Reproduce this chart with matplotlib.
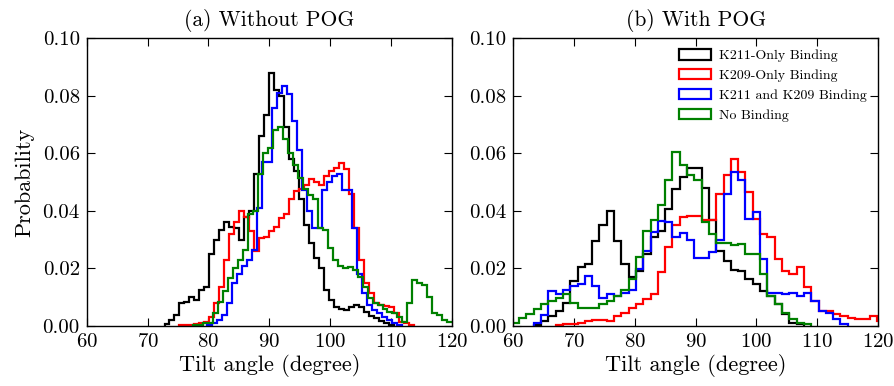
import numpy as np
import matplotlib
matplotlib.use("Agg")
import matplotlib.pyplot as plt
from matplotlib.ticker import FormatStrFormatter

plt.rcParams['font.family'] = ['cmr10', 'DejaVu Serif']
plt.rcParams['mathtext.fontset'] = 'cm'
plt.rcParams['axes.formatter.use_mathtext'] = True

labels = ["K211-Only Binding", "K209-Only Binding", "K211 and K209 Binding", "No Binding"]
colors = ["k", "r", "b", "g"]

# (a) Without POG : bin width 0.82 degree, first left edge per series
width_a = 0.82
black_a_start = 72.78
black_a = [0.0007, 0.002, 0.004, 0.008, 0.0085, 0.010, 0.009, 0.0125, 0.0135, 0.025,
           0.030, 0.0335, 0.036, 0.0345, 0.034, 0.030, 0.038, 0.040, 0.053, 0.066,
           0.0735, 0.088, 0.082, 0.080, 0.069, 0.058, 0.054, 0.044, 0.035, 0.029,
           0.0235, 0.020, 0.0125, 0.009, 0.0067, 0.0058, 0.0056, 0.0067, 0.0073, 0.0067,
           0.005, 0.0035, 0.0027, 0.0019, 0.0012, 0.0005]
red_a_start = 75.24
red_a = [0.0003, 0.0005, 0.0005, 0.0008, 0.001, 0.0015, 0.003, 0.008, 0.0137, 0.023,
         0.032, 0.036, 0.040, 0.038, 0.033, 0.026, 0.0305, 0.031, 0.033, 0.0345,
         0.0375, 0.039, 0.044, 0.047, 0.0475, 0.049, 0.051, 0.050, 0.049, 0.052,
         0.054, 0.055, 0.0567, 0.0545, 0.046, 0.034, 0.023, 0.015, 0.0115, 0.008,
         0.0072, 0.007, 0.0065, 0.0045, 0.0015, 0.001, 0.0003]
blue_a_start = 79.84
blue_a = [0.0003, 0.001, 0.002, 0.004, 0.008, 0.015, 0.018, 0.0207, 0.023, 0.0265,
          0.041, 0.057, 0.057, 0.0758, 0.081, 0.0834, 0.0805, 0.0712, 0.0613, 0.0474,
          0.040, 0.034, 0.034, 0.0474, 0.050, 0.052, 0.0527, 0.0474, 0.0474, 0.034,
          0.018, 0.0114, 0.0073, 0.0056, 0.0044, 0.0033, 0.0021, 0.001, 0.0003]
green_a_start = 77.44
green_a = [0.0003, 0.0005, 0.001, 0.001, 0.0045, 0.0085, 0.012, 0.0166, 0.020, 0.023,
           0.0265, 0.039, 0.040, 0.053, 0.060, 0.062, 0.068, 0.069, 0.065, 0.060,
           0.056, 0.0515, 0.0475, 0.0457, 0.044, 0.034, 0.0335, 0.027, 0.023, 0.0207,
           0.020, 0.0205, 0.0195, 0.017, 0.0137, 0.0097, 0.008, 0.0073, 0.006, 0.005,
           0.0044, 0.0033, 0.0015, 0.008, 0.016, 0.015, 0.0143, 0.010, 0.0044, 0.004,
           0.002, 0.0015, 0.0015]

# (b) With POG : bin width 1.2 degree
width_b = 1.2
black_b_start = 63.4
black_b = [0.0003, 0.0017, 0.0035, 0.0052, 0.0081, 0.0157, 0.0204, 0.0215, 0.0297, 0.035,
           0.040, 0.0295, 0.0215, 0.0169, 0.0192, 0.025, 0.0308, 0.033, 0.0407, 0.0477,
           0.0518, 0.055, 0.055, 0.048, 0.037, 0.026, 0.0225, 0.0195, 0.019, 0.0165,
           0.0145, 0.0122, 0.0105, 0.0076, 0.0041, 0.0012, 0.0006]
red_b_start = 67.0
red_b = [0.0003, 0.0008, 0.0006, 0.0012, 0.0017, 0.002, 0.002, 0.0017, 0.0035, 0.0045,
         0.0064, 0.0076, 0.0093, 0.011, 0.0186, 0.0273, 0.035, 0.0378, 0.0384, 0.0384,
         0.037, 0.037, 0.046, 0.0524, 0.0582, 0.0535, 0.0465, 0.0372, 0.032, 0.031,
         0.0233, 0.0192, 0.018, 0.0204, 0.0134, 0.0087, 0.0052, 0.0052, 0.0041, 0.0035,
         0.0029, 0.0023, 0.0023, 0.0035, 0.0018]
blue_b_start = 63.4
blue_b = [0.0012, 0.004, 0.0122, 0.011, 0.0125, 0.014, 0.0145, 0.0175, 0.014, 0.0099,
          0.011, 0.0105, 0.0115, 0.0125, 0.0198, 0.0262, 0.0326, 0.0366, 0.036, 0.0308,
          0.0322, 0.030, 0.0238, 0.0238, 0.0256, 0.030, 0.046, 0.0535, 0.0506, 0.0372,
          0.0395, 0.0233, 0.0116, 0.0116, 0.0113, 0.0116, 0.0105, 0.0116, 0.0087, 0.0052,
          0.0045, 0.0023, 0.0006]
green_b_start = 59.8
green_b = [0.0012, 0.0029, 0.0041, 0.0058, 0.0076, 0.0087, 0.0099, 0.011, 0.0081, 0.0064,
           0.0062, 0.0064, 0.0076, 0.0087, 0.0105, 0.0125, 0.0165, 0.024, 0.033, 0.037,
           0.042, 0.0506, 0.0605, 0.0558, 0.0524, 0.0506, 0.036, 0.032, 0.029, 0.029,
           0.028, 0.0285, 0.025, 0.025, 0.018, 0.0105, 0.0075, 0.0045, 0.0023, 0.0012,
           0.0006]

panels = [
    ("(a) Without POG", width_a,
     [(black_a_start, black_a), (red_a_start, red_a), (blue_a_start, blue_a), (green_a_start, green_a)]),
    ("(b) With POG", width_b,
     [(black_b_start, black_b), (red_b_start, red_b), (blue_b_start, blue_b), (green_b_start, green_b)]),
]

fig = plt.figure(figsize=(8.95, 3.86), dpi=100)
ax_a = fig.add_axes([0.0969, 0.1554, 0.408, 0.7454])
ax_b = fig.add_axes([0.5732, 0.1554, 0.408, 0.7454])

for ax, (title, w, series) in zip([ax_a, ax_b], panels):
    for (start, vals), c, lab in zip(series, colors, labels):
        edges = start + w * np.arange(len(vals) + 1)
        ax.hist(edges[:-1] + w / 2, bins=edges, weights=vals, histtype='step',
                color=c, lw=1.6, label=lab)
    ax.set_xlim(60, 120)
    ax.set_ylim(0, 0.10)
    ax.set_xticks(np.arange(60, 121, 10))
    ax.set_yticks(np.arange(0, 0.101, 0.02))
    ax.yaxis.set_major_formatter(FormatStrFormatter('%.2f'))
    ax.tick_params(direction='in', top=True, right=True, length=6, width=0.8,
                   labelsize=15, pad=5)
    ax.set_title(title, fontsize=15.5, pad=9)
    ax.set_xlabel("Tilt angle (degree)", fontsize=16, labelpad=2)
    for s in ax.spines.values():
        s.set_linewidth(1.0)

ax_a.set_ylabel("Probability", fontsize=16, labelpad=6)
ax_b.legend(loc='upper right', frameon=False, fontsize=10, handlelength=2.3,
            handleheight=0.75, handletextpad=0.6, labelspacing=0.5,
            borderaxespad=0.4)

fig.savefig("out.png", dpi=100)
